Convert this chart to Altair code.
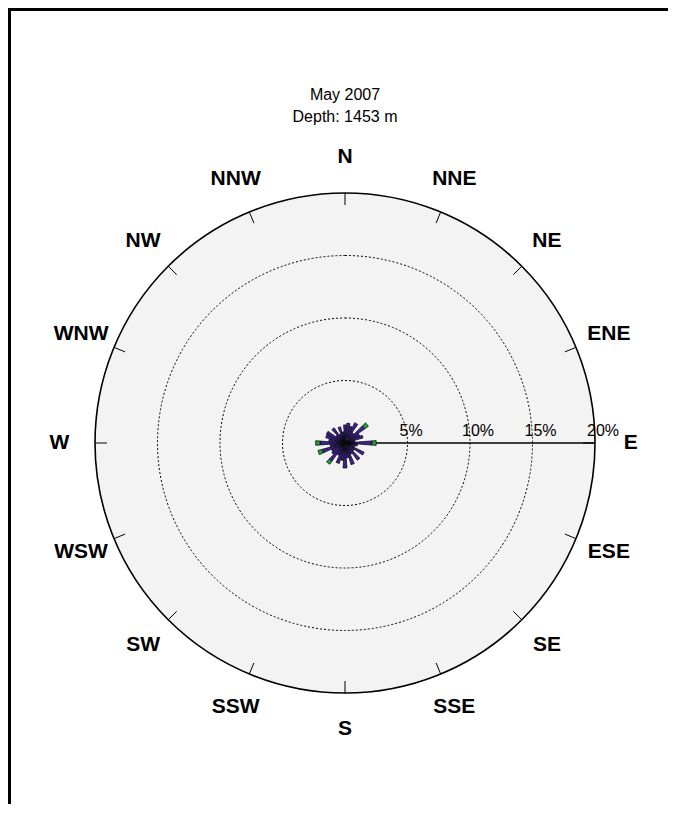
import altair as alt
import pandas as pd
import numpy as np

# ---- data ----
directions = list(range(0, 360, 10))
totals = [1.45, 1.6, 1.4, 1.8, 1.0, 2.3, 1.3, 1.5, 0.8, 2.5,
          1.0, 0.8, 1.7, 0.9, 1.7, 1.0, 1.8, 1.2, 2.0, 1.4,
          1.7, 1.1, 2.1, 1.3, 1.2, 2.25, 1.2, 2.35, 1.3, 1.6,
          1.65, 0.9, 1.5, 0.8, 1.35, 0.9]
low = [0.2, 0.45, 0.5, 0.5, 0.4, 0.3, 0.2, 0.2, 0.2, 0.2,
       0.2, 0.2, 0.2, 0.2, 0.25, 0.35, 0.4, 0.4, 0.4, 0.35,
       0.3, 0.2, 0.2, 0.2, 0.2, 0.2, 0.3, 0.3, 0.3, 0.2,
       0.2, 0.2, 0.2, 0.2, 0.2, 0.2]
high = [0, 0, 0, 0, 0, 0.35, 0, 0, 0, 0.35,
        0, 0, 0, 0, 0, 0, 0, 0, 0, 0,
        0, 0, 0.3, 0, 0, 0.35, 0, 0.35, 0, 0,
        0, 0, 0, 0, 0, 0]
segments = ["low", "mid", "high"]
seg_colors = ["#a6dcd4", "#3d2391", "#1fa23a"]

compass = ["N", "NNE", "NE", "ENE", "E", "ESE", "SE", "SSE",
           "S", "SSW", "SW", "WSW", "W", "WNW", "NW", "NNW"]
rings = [5, 10, 15]
ring_labels = ["5%", "10%", "15%", "20%"]
ring_label_values = [5, 10, 15, 20]
outer = 20
title_lines = ["May 2007", "Depth: 1453 m"]

# ---- tables ----
half_width = 4.5
rows = []
for d, tot, lo, hi in zip(directions, totals, low, high):
    r = 0.0
    for seg, v in zip(segments, [lo, tot - lo - hi, hi]):
        if v > 0:
            rows.append(dict(dir=d, t0=d - half_width, t1=d + half_width,
                             r0=r, r1=r + v, seg=seg, cx=0, cy=0))
            r += v
petals = pd.DataFrame(rows)

disc = pd.DataFrame([dict(cx=0, cy=0, t0=0, t1=360, r1=outer)])
ring_df = pd.DataFrame([dict(cx=0, cy=0, t0=0, t1=360, r1=r) for r in rings])

bearings = np.arange(16) * 22.5
tick_in = outer * 238 / 250
ticks = pd.DataFrame(dict(
    x=tick_in * np.sin(np.radians(bearings)), y=tick_in * np.cos(np.radians(bearings)),
    x2=outer * np.sin(np.radians(bearings)), y2=outer * np.cos(np.radians(bearings))))
axis_line = pd.DataFrame([dict(x=0, y=0, x2=outer, y2=0)])

lab_r = 22.85
labels = pd.DataFrame(dict(
    name=compass,
    x=lab_r * np.sin(np.radians(bearings)),
    y=lab_r * np.cos(np.radians(bearings))))
pct = pd.DataFrame(dict(label=ring_labels, x=ring_label_values, y=0))

# ---- scales ----
W, H = 660, 796
X = alt.Scale(domain=[-26.96, 25.84], nice=False, zero=False)
Y = alt.Scale(domain=[-28.88, 34.8], nice=False, zero=False)
R = alt.Scale(type="linear", domain=[0, 20], range=[0, 250], zero=True, nice=False)
T = alt.Scale(type="linear", domain=[0, 360], range=[0, 2 * np.pi], zero=True, nice=False)

def polar_enc():
    return dict(
        x=alt.X("cx:Q", scale=X, axis=None),
        y=alt.Y("cy:Q", scale=Y, axis=None),
        theta=alt.Theta("t0:Q", scale=T, stack=None),
        theta2="t1:Q",
        radius=alt.Radius("r1:Q", scale=R),
    )

disc_layer = alt.Chart(disc).mark_arc(fill="#f3f3f3", stroke="black", strokeWidth=1.6).encode(**polar_enc())
ring_layer = alt.Chart(ring_df).mark_arc(filled=False, stroke="black", strokeWidth=1,
                                         strokeDash=[2, 2]).encode(**polar_enc())

tick_layer = alt.Chart(ticks).mark_rule(color="black", strokeWidth=1).encode(
    x=alt.X("x:Q", scale=X, axis=None), y=alt.Y("y:Q", scale=Y, axis=None),
    x2="x2:Q", y2="y2:Q")
axis_layer = alt.Chart(axis_line).mark_rule(color="black", strokeWidth=1.3).encode(
    x=alt.X("x:Q", scale=X, axis=None), y=alt.Y("y:Q", scale=Y, axis=None),
    x2="x2:Q", y2="y2:Q")

pe = polar_enc()
petal_layer = alt.Chart(petals).mark_arc(stroke="black", strokeWidth=0.7).encode(
    **pe,
    radius2="r0:Q",
    color=alt.Color("seg:N", scale=alt.Scale(domain=segments, range=seg_colors), legend=None),
)

label_layer = alt.Chart(labels).mark_text(
    font="Liberation Sans", fontWeight="bold", fontSize=21, color="black",
    align="center", baseline="middle").encode(
    x=alt.X("x:Q", scale=X, axis=None), y=alt.Y("y:Q", scale=Y, axis=None), text="name:N")

pct_layer = alt.Chart(pct).mark_text(
    font="Liberation Sans", fontSize=16, color="black", align="left", baseline="alphabetic",
    dx=-8, dy=-7).encode(
    x=alt.X("x:Q", scale=X, axis=None), y=alt.Y("y:Q", scale=Y, axis=None), text="label:N")

title1 = alt.Chart(pd.DataFrame(dict(line=title_lines[:1]))).mark_text(
    font="Liberation Sans", fontSize=16, color="black", align="center", baseline="middle").encode(
    x=alt.value(337), y=alt.value(87), text="line:N")
title2 = alt.Chart(pd.DataFrame(dict(line=title_lines[1:]))).mark_text(
    font="Liberation Sans", fontSize=16, color="black", align="center", baseline="middle").encode(
    x=alt.value(337), y=alt.value(109), text="line:N")

frame_df = pd.DataFrame(dict(k=[1]))
frame_left = alt.Chart(frame_df).mark_rule(color="black", strokeWidth=3).encode(
    x=alt.value(1.5), y=alt.value(0), y2=alt.value(H))
frame_top = alt.Chart(frame_df).mark_rule(color="black", strokeWidth=3).encode(
    x=alt.value(0), x2=alt.value(W), y=alt.value(1.5))

chart = alt.layer(
    disc_layer, ring_layer, tick_layer, axis_layer, petal_layer,
    label_layer, pct_layer, title1, title2, frame_left, frame_top
).properties(
    width=W, height=H, padding=0, autosize=alt.AutoSizeParams(type="none")
).configure_view(stroke=None)

chart.save("out.html", embed_options={"renderer": "svg", "actions": False})
